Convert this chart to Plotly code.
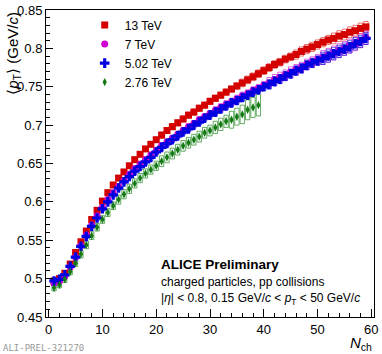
import plotly.graph_objects as go

# <pT> vs Nch, ALICE preliminary, pp collisions
nch = list(range(1, 60))
nch_276 = list(range(1, 40))

pt_13 = [0.497, 0.500, 0.507, 0.519, 0.534, 0.548, 0.562, 0.577, 0.589, 0.601,
         0.612, 0.622, 0.631, 0.639, 0.647, 0.655, 0.662, 0.669, 0.675, 0.681,
         0.687, 0.693, 0.698, 0.703, 0.708, 0.713, 0.717, 0.722, 0.726, 0.731,
         0.735, 0.739, 0.743, 0.747, 0.751, 0.755, 0.759, 0.763, 0.767, 0.771,
         0.775, 0.779, 0.782, 0.786, 0.789, 0.792, 0.796, 0.799, 0.802, 0.805,
         0.808, 0.811, 0.813, 0.816, 0.818, 0.821, 0.823, 0.826, 0.828]
pt_7 = [0.494, 0.497, 0.503, 0.515, 0.528, 0.543, 0.557, 0.570, 0.582, 0.593,
        0.603, 0.612, 0.620, 0.628, 0.636, 0.643, 0.649, 0.655, 0.661, 0.667,
        0.673, 0.678, 0.683, 0.688, 0.693, 0.698, 0.702, 0.707, 0.711, 0.715,
        0.719, 0.723, 0.727, 0.730, 0.734, 0.738, 0.741, 0.745, 0.748, 0.752,
        0.755, 0.759, 0.762, 0.765, 0.769, 0.772, 0.775, 0.779, 0.782, 0.785,
        0.788, 0.791, 0.794, 0.797, 0.800, 0.803, 0.806, 0.810, 0.814]
pt_502 = [0.497, 0.499, 0.505, 0.516, 0.528, 0.542, 0.555, 0.568, 0.579, 0.591,
          0.600, 0.609, 0.618, 0.626, 0.633, 0.640, 0.646, 0.652, 0.658, 0.665,
          0.671, 0.676, 0.681, 0.686, 0.691, 0.695, 0.700, 0.704, 0.709, 0.713,
          0.717, 0.721, 0.725, 0.729, 0.732, 0.736, 0.739, 0.743, 0.746, 0.750,
          0.753, 0.757, 0.760, 0.764, 0.767, 0.771, 0.774, 0.778, 0.781, 0.784,
          0.787, 0.790, 0.793, 0.796, 0.799, 0.802, 0.806, 0.809, 0.813]
pt_276 = [0.488, 0.492, 0.499, 0.509, 0.520, 0.532, 0.544, 0.556, 0.567, 0.577,
          0.586, 0.595, 0.603, 0.610, 0.617, 0.624, 0.631, 0.637, 0.642, 0.647,
          0.653, 0.658, 0.663, 0.668, 0.673, 0.677, 0.681, 0.685, 0.690, 0.693,
          0.697, 0.701, 0.705, 0.707, 0.711, 0.714, 0.720, 0.723, 0.726]

# systematic uncertainties (half height of boxes)
sys_13 = [0.003, 0.003, 0.003, 0.003, 0.003, 0.003, 0.003, 0.003, 0.003, 0.003,
          0.003, 0.003, 0.003, 0.003, 0.003, 0.003, 0.003, 0.003, 0.003, 0.003,
          0.004, 0.004, 0.004, 0.004, 0.004, 0.004, 0.004, 0.004, 0.004, 0.004,
          0.004, 0.004, 0.004, 0.004, 0.004, 0.005, 0.005, 0.005, 0.005, 0.005,
          0.005, 0.005, 0.005, 0.005, 0.005, 0.006, 0.006, 0.006, 0.006, 0.006,
          0.006, 0.006, 0.007, 0.007, 0.007, 0.007, 0.007, 0.007, 0.007]
sys_7 = [0.003, 0.003, 0.003, 0.003, 0.003, 0.003, 0.003, 0.003, 0.003, 0.003,
         0.003, 0.003, 0.003, 0.003, 0.003, 0.004, 0.004, 0.004, 0.004, 0.004,
         0.004, 0.004, 0.004, 0.004, 0.004, 0.004, 0.004, 0.004, 0.004, 0.004,
         0.005, 0.005, 0.005, 0.005, 0.005, 0.005, 0.005, 0.005, 0.005, 0.005,
         0.007, 0.007, 0.007, 0.007, 0.007, 0.007, 0.007, 0.007, 0.007, 0.007,
         0.009, 0.009, 0.009, 0.009, 0.009, 0.009, 0.009, 0.009, 0.009]
sys_502 = [0.003, 0.003, 0.003, 0.003, 0.003, 0.003, 0.003, 0.003, 0.003, 0.003,
           0.003, 0.003, 0.003, 0.003, 0.003, 0.004, 0.004, 0.004, 0.004, 0.004,
           0.004, 0.004, 0.004, 0.004, 0.004, 0.004, 0.004, 0.004, 0.004, 0.004,
           0.005, 0.005, 0.005, 0.005, 0.005, 0.005, 0.005, 0.005, 0.005, 0.005,
           0.006, 0.006, 0.006, 0.006, 0.006, 0.006, 0.006, 0.006, 0.006, 0.006,
           0.008, 0.008, 0.008, 0.008, 0.008, 0.008, 0.008, 0.008, 0.008]
sys_276 = [0.004, 0.004, 0.004, 0.004, 0.004, 0.005, 0.005, 0.005, 0.005, 0.005,
           0.005, 0.005, 0.006, 0.006, 0.006, 0.006, 0.006, 0.006, 0.006, 0.006,
           0.007, 0.007, 0.007, 0.007, 0.007, 0.007, 0.007, 0.007, 0.007, 0.007,
           0.008, 0.008, 0.008, 0.011, 0.011, 0.012, 0.013, 0.013, 0.014]
stat_276 = [0.002] * len(nch_276)

series = [
    ("13 TeV", nch, pt_13, sys_13, "#d40000", "rgba(220,0,0,0.55)", "square", 7),
    ("7 TeV", nch, pt_7, sys_7, "#d000d0", "rgba(210,0,210,0.6)", "circle", 7),
    ("5.02 TeV", nch, pt_502, sys_502, "#0000e0", "rgba(0,0,230,0.6)", "cross", 8),
    ("2.76 TeV", nch_276, pt_276, sys_276, "#157a15", "rgba(20,130,20,0.65)", "diamond-tall", 6),
]

FONT = "Liberation Sans, Arial, sans-serif"

fig = go.Figure()

# systematic boxes first
for name, x, y, s, col, boxcol, sym, size in series:
    fig.add_trace(go.Bar(
        x=x, y=[2 * e for e in s], base=[v - e for v, e in zip(y, s)],
        width=0.8, marker=dict(color="rgba(0,0,0,0)", line=dict(color=boxcol, width=1)),
        showlegend=False, hoverinfo="skip"))

for name, x, y, s, col, boxcol, sym, size in series:
    err = dict(type="data", array=stat_276, color=col, thickness=1, width=0) if name == "2.76 TeV" else None
    fig.add_trace(go.Scatter(
        x=x, y=y, mode="markers", name=name,
        marker=dict(symbol=sym, size=size, color=col, line=dict(width=0)),
        error_y=err))

fig.update_layout(
    width=382, height=354,
    margin=dict(l=46, r=3, t=4, b=37),
    plot_bgcolor="white", paper_bgcolor="white",
    barmode="overlay",
    font=dict(family=FONT, size=13, color="black"),
    legend=dict(x=0.118, y=0.998, xanchor="left", yanchor="top", itemwidth=30,
                bgcolor="rgba(0,0,0,0)", font=dict(size=12), tracegroupgap=0),
)
fig.update_xaxes(range=[-0.5, 60.5], showgrid=False, zeroline=False,
                 showline=True, linecolor="black", linewidth=1, mirror=True,
                 ticks="inside", ticklen=8, tickcolor="black", dtick=10, tick0=0,
                 ticklabeloverflow="allow",
                 minor=dict(ticks="inside", ticklen=4, dtick=2, tick0=0, tickcolor="black"),
                 tickfont=dict(size=13))
fig.update_yaxes(range=[0.45, 0.85], showgrid=False, zeroline=False,
                 showline=True, linecolor="black", linewidth=1, mirror=True,
                 ticks="inside", ticklen=7, tickcolor="black", dtick=0.05, tick0=0.45,
                 tickformat="~g", ticklabeloverflow="allow",
                 minor=dict(ticks="inside", ticklen=4, dtick=0.01, tickcolor="black"),
                 tickfont=dict(size=13))

fig.add_annotation(text="⟨<i>p</i><sub>T</sub>⟩ (GeV/<i>c</i>)", textangle=-90,
                   xref="paper", yref="paper", x=-0.135, y=1.0, xanchor="left", yanchor="top",
                   showarrow=False, font=dict(size=15))
fig.add_annotation(text="<i>N</i><sub>ch</sub>", xref="paper", yref="paper",
                   x=1.0, y=-0.085, xanchor="right", yanchor="middle",
                   showarrow=False, font=dict(size=15))
fig.add_annotation(text="<b>ALICE Preliminary</b>", xref="paper", yref="paper",
                   x=0.345, y=0.1725, xanchor="left", yanchor="middle",
                   showarrow=False, font=dict(size=13.5))
fig.add_annotation(text="charged particles, pp collisions", xref="paper", yref="paper",
                   x=0.345, y=0.113, xanchor="left", yanchor="middle",
                   showarrow=False, font=dict(size=12))
fig.add_annotation(text="|<i>η</i>| < 0.8, 0.15 GeV/<i>c</i> < <i>p</i><sub>T</sub> < 50 GeV/<i>c</i>",
                   xref="paper", yref="paper",
                   x=0.345, y=0.058, xanchor="left", yanchor="middle",
                   showarrow=False, font=dict(size=12))
fig.add_annotation(text="ALI-PREL-321270", xref="paper", yref="paper",
                   x=-0.138, y=-0.102, xanchor="left", yanchor="middle",
                   showarrow=False, font=dict(size=9, color="#999999", family="DejaVu Sans Mono, monospace"))

# the page body has a default 8px margin; drop it so the figure sits at the corner
fig.write_html("out.html", config={"displayModeBar": False},
               post_script="document.body.style.margin='0';")
